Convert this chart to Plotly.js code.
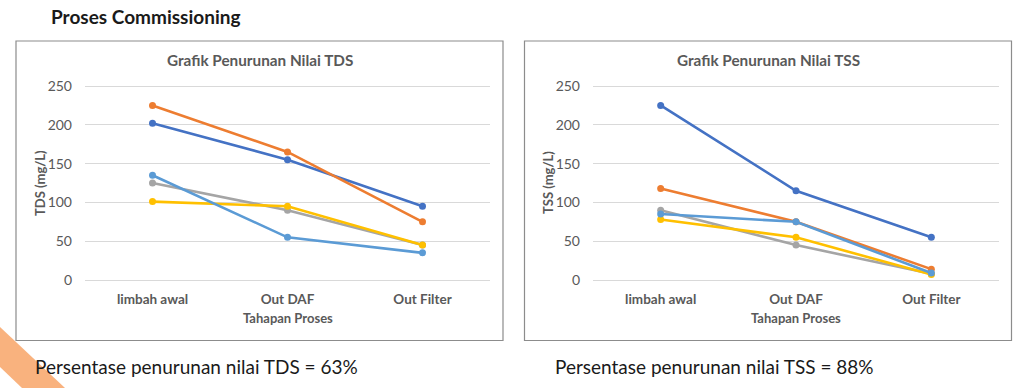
<!DOCTYPE html>
<html>
<head>
<meta charset="utf-8">
<script src="https://cdn.plot.ly/plotly-3.0.1.min.js"></script>
<style>
html,body{margin:0;padding:0;background:#fff;}
#chart{width:1024px;height:388px;}
</style>
</head>
<body>
<div id="chart"></div>
<script>
// ---- data ----
const categories = ["limbah awal", "Out DAF", "Out Filter"];
const yTicks = [0, 50, 100, 150, 200, 250];

// TDS (mg/L)
const tdsSeries1 = [202, 155, 95];
const tdsSeries2 = [225, 165, 75];
const tdsSeries3 = [125, 90, 45];
const tdsSeries4 = [101, 95, 45];
const tdsSeries5 = [135, 55, 35];

// TSS (mg/L)
const tssSeries1 = [225, 115, 55];
const tssSeries2 = [118, 75, 14];
const tssSeries3 = [90, 45, 8];
const tssSeries4 = [78, 55, 7];
const tssSeries5 = [85, 75, 9];

const colors = ["#4472C4", "#ED7D31", "#A5A5A5", "#FFC000", "#5B9BD5"];
const FONT = "Lato, 'Open Sans', sans-serif";
const W = 1024, H = 388;
const px = x => x / W;
const py = y => 1 - y / H;

function mk(vals, i, xa, ya) {
  return {
    x: categories, y: vals, type: "scatter", mode: "lines+markers",
    xaxis: xa, yaxis: ya, cliponaxis: false, showlegend: false,
    line: {color: colors[i], width: 2.6},
    marker: {color: colors[i], size: 7},
    hoverinfo: "skip"
  };
}
const tds = [tdsSeries1, tdsSeries2, tdsSeries3, tdsSeries4, tdsSeries5];
const tss = [tssSeries1, tssSeries2, tssSeries3, tssSeries4, tssSeries5];
const traces = [];
tds.forEach((v, i) => traces.push(mk(v, i, "x", "y")));
tss.forEach((v, i) => traces.push(mk(v, i, "x2", "y2")));

const yDomain = [py(281.55), py(84.45)];
function xax(dom) {
  return {
    domain: dom, type: "category", range: [-0.5, 2.5],
    showgrid: false, zeroline: false, showline: false, ticks: "",
    ticklabelstandoff: 8,
    tickfont: {family: FONT, size: 13.5, color: "#595959", weight: "bold"},
    fixedrange: true
  };
}
function yax(anchor) {
  return {
    domain: yDomain, anchor: anchor, range: [-2, 252],
    tickvals: yTicks, ticktext: yTicks.map(String),
    showgrid: true, gridcolor: "#D9D9D9", gridwidth: 1,
    zeroline: false, showline: false, ticks: "",
    ticklabelstandoff: 12,
    tickfont: {family: FONT, size: 14, color: "#595959"},
    fixedrange: true
  };
}

const axisTitleFont = {family: FONT, size: 13, color: "#595959", weight: "bold"};
const layout = {
  width: W, height: H,
  margin: {l: 0, r: 0, t: 0, b: 0},
  paper_bgcolor: "#FFFFFF", plot_bgcolor: "rgba(0,0,0,0)",
  xaxis: Object.assign(xax([px(85), px(490)]), {anchor: "y"}),
  yaxis: yax("x"),
  xaxis2: Object.assign(xax([px(593), px(999)]), {anchor: "y2"}),
  yaxis2: yax("x2"),
  shapes: [
    {type: "path", xref: "paper", yref: "paper", layer: "below",
     path: `M 0 ${py(327)} L ${px(65)} ${py(388)} L ${px(22)} ${py(388)} L 0 ${py(367)} Z`,
     fillcolor: "#F9B27E", line: {width: 0}},
    {type: "rect", xref: "paper", yref: "paper", layer: "below",
     x0: px(16), x1: px(503), y0: py(340.5), y1: py(41),
     fillcolor: "#FFFFFF", line: {color: "#8C8C8C", width: 1.2}},
    {type: "rect", xref: "paper", yref: "paper", layer: "below",
     x0: px(524.5), x1: px(1011.5), y0: py(340.5), y1: py(41),
     fillcolor: "#FFFFFF", line: {color: "#8C8C8C", width: 1.2}}
  ],
  annotations: [
    {text: "Proses Commissioning", xref: "paper", yref: "paper", x: px(49), y: py(17),
     xanchor: "left", yanchor: "middle", showarrow: false,
     font: {family: FONT, size: 19, color: "#1A1A1A", weight: "bold"}},
    {text: "Grafik Penurunan Nilai TDS", xref: "paper", yref: "paper", x: px(259.5), y: py(60),
     xanchor: "center", yanchor: "middle", showarrow: false,
     font: {family: FONT, size: 15.3, color: "#595959", weight: "bold"}},
    {text: "Grafik Penurunan Nilai TSS", xref: "paper", yref: "paper", x: px(768), y: py(60),
     xanchor: "center", yanchor: "middle", showarrow: false,
     font: {family: FONT, size: 15.3, color: "#595959", weight: "bold"}},
    {text: "TDS (mg/L)", xref: "paper", yref: "paper", x: px(40), y: py(183),
     xanchor: "center", yanchor: "middle", textangle: -90, showarrow: false, font: axisTitleFont},
    {text: "TSS (mg/L)", xref: "paper", yref: "paper", x: px(548), y: py(183),
     xanchor: "center", yanchor: "middle", textangle: -90, showarrow: false, font: axisTitleFont},
    {text: "Tahapan Proses", xref: "paper", yref: "paper", x: px(287.5), y: py(318),
     xanchor: "center", yanchor: "middle", showarrow: false, font: axisTitleFont},
    {text: "Tahapan Proses", xref: "paper", yref: "paper", x: px(796), y: py(318),
     xanchor: "center", yanchor: "middle", showarrow: false, font: axisTitleFont},
    {text: "Persentase penurunan nilai TDS = 63%", xref: "paper", yref: "paper", x: px(33), y: py(366),
     xanchor: "left", yanchor: "middle", showarrow: false,
     font: {family: FONT, size: 19, color: "#1A1A1A"}},
    {text: "Persentase penurunan nilai TSS = 88%", xref: "paper", yref: "paper", x: px(553), y: py(366),
     xanchor: "left", yanchor: "middle", showarrow: false,
     font: {family: FONT, size: 19, color: "#1A1A1A"}}
  ]
};

Plotly.newPlot("chart", traces, layout, {staticPlot: true, displayModeBar: false});
</script>
</body>
</html>
